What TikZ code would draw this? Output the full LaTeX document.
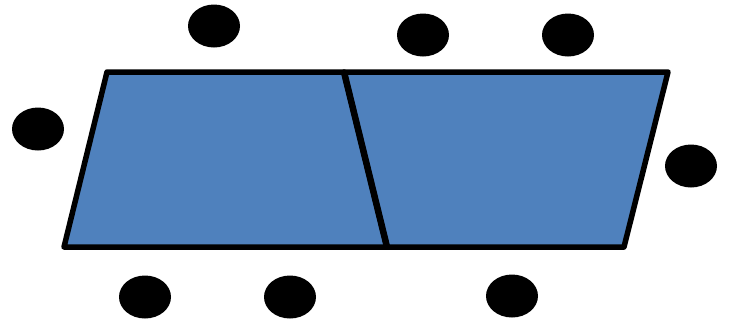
\documentclass[tikz,border=0pt]{standalone}
\usetikzlibrary{shapes.geometric}
\begin{document}
\begin{tikzpicture}[x=1pt,y=-1pt,
  panel/.style={draw=black,fill=blueA,line width=5.5pt,line join=round},
  divider/.style={draw=black,line width=6.5pt},
  dot/.style={ellipse,fill=black,minimum width=52pt,minimum height=43pt,inner sep=0pt}]
\definecolor{blueA}{HTML}{4F81BD}
\useasboundingbox (0,0) rectangle (729,322);
\coordinate (tl) at (107,72);
\coordinate (tm) at (344,72);
\coordinate (tr) at (668,72);
\coordinate (bl) at (64,247);
\coordinate (bm) at (387,247);
\coordinate (br) at (624,247);
\draw[panel] (tl) -- (tm) -- (bm) -- (bl) -- cycle;
\draw[panel] (tm) -- (tr) -- (br) -- (bm) -- cycle;
\draw[divider] (tm) -- (bm);
\node[dot] (d1) at (214,26) {};
\node[dot] (d2) at (38,129) {};
\node[dot] (d3) at (423,35) {};
\node[dot] (d4) at (568,35) {};
\node[dot] (d5) at (691,166) {};
\node[dot] (d6) at (145,297) {};
\node[dot] (d7) at (290,297) {};
\node[dot] (d8) at (512,296) {};
\end{tikzpicture}
\end{document}
